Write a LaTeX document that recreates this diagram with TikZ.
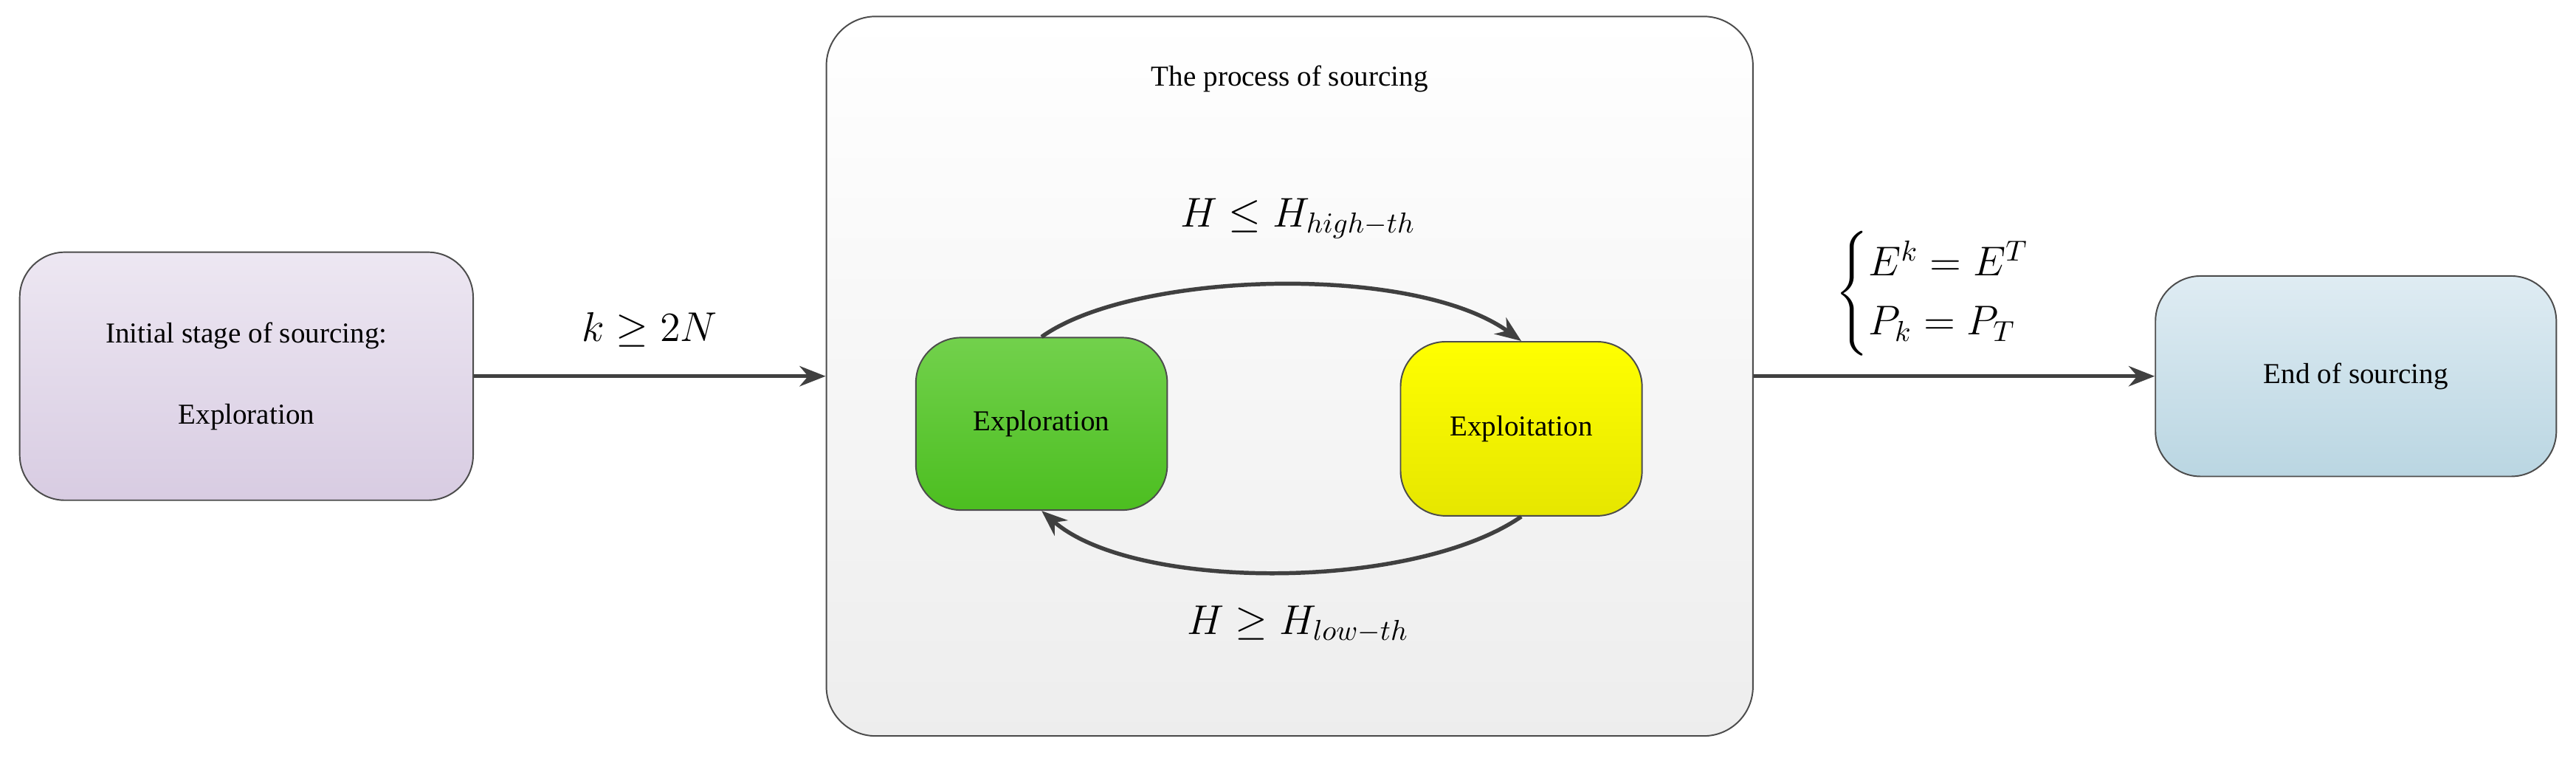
\documentclass[tikz,border=0pt]{standalone}
\usepackage{fontspec}
\setmainfont{Liberation Serif}
\usepackage{amsmath}
\usetikzlibrary{arrows.meta,positioning}
\definecolor{lavtop}{HTML}{EDE7F2}
\definecolor{lavbot}{HTML}{D8CCE2}
\definecolor{grntop}{HTML}{72D14C}
\definecolor{grnbot}{HTML}{4CBE20}
\definecolor{yeltop}{HTML}{FFFF00}
\definecolor{yelbot}{HTML}{E6E600}
\definecolor{blutop}{HTML}{DFECF3}
\definecolor{blubot}{HTML}{BAD6E2}
\begin{document}
\begin{tikzpicture}[x=0.02cm,y=-0.02cm,
    stage/.style={rectangle, rounded corners=0.55cm, draw=black!70, line width=0.5pt, align=center, font=\fontsize{10}{14}\selectfont},
    flow/.style={-{Stealth[length=9pt,width=7pt]}, draw=black!75, line width=1.4pt},
    lbl/.style={font=\fontsize{14.5}{17}\selectfont}
]
\useasboundingbox (0,0) rectangle (1568,461);
% Stages
\node[stage, minimum width=276*0.02cm, minimum height=151*0.02cm, top color=lavtop, bottom color=lavbot] (init) at (150,229) {Initial stage of sourcing:\\[14pt] Exploration};
\node[stage, rounded corners=0.6cm, minimum width=564*0.02cm, minimum height=438*0.02cm, top color=white, bottom color=black!7] (proc) at (785,229) {};
\node[font=\fontsize{10}{12}\selectfont] (title) at (785,48) {The process of sourcing};
\node[stage, minimum width=153*0.02cm, minimum height=105*0.02cm, top color=grntop, bottom color=grnbot] (explore) at (634,258) {Exploration};
\node[stage, minimum width=147*0.02cm, minimum height=106*0.02cm, top color=yeltop, bottom color=yelbot] (exploit) at (926,261) {Exploitation};
\node[stage, minimum width=244*0.02cm, minimum height=122*0.02cm, top color=blutop, bottom color=blubot] (finish) at (1434,229) {End of sourcing};

% Connectors
\draw[flow] (init) -- node[lbl, above=6pt] {$k \geq 2N$} (proc);
\draw[flow] (proc) -- node[lbl, above=3pt] {$\begin{cases} E^k = E^T\\ P_k = P_T\end{cases}$} (finish);
\draw[flow] (explore.north) .. controls (690,165) and (860,160) .. (exploit.north);
\draw[flow] (exploit.south) .. controls (860,360) and (690,360) .. (explore.south);
\node[lbl] (upper) at (790,133) {$H \leq H_{high-th}$};
\node[lbl] (lower) at (790,380) {$H \geq H_{low-th}$};
\end{tikzpicture}
\end{document}
